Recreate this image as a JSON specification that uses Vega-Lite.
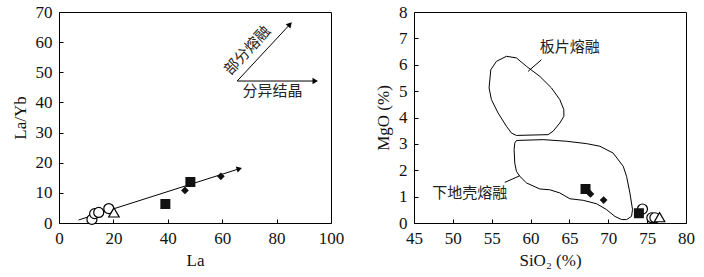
{
  "$schema": "https://vega.github.io/schema/vega-lite/v6.json",
  "padding": {"left": 10, "top": 2, "right": 5, "bottom": 5},
  "bounds": "flush",
  "spacing": 83,
  "config": {
    "view": {"stroke": "black", "strokeWidth": 1},
    "font": "Liberation Serif",
    "style": {"guide-label": {"font": "Liberation Serif", "fontSize": 17, "fill": "#111"}, "guide-title": {"font": "Liberation Serif", "fontSize": 17, "fontWeight": "normal", "fill": "#111"}},
    "axis": {
      "grid": false,
      "domain": false,
      "tickColor": "black",
      "tickSize": 4,
      "offset": -4,
      "labelPadding": 7,
      "labelOverlap": false,
      "labelFlush": false,
      "labelFont": "Liberation Serif",
      "labelFontSize": 17,
      "labelColor": "#111",
      "titleFont": "Liberation Serif",
      "titleFontSize": 17,
      "titleFontWeight": "normal",
      "titleColor": "#111",
      "titlePadding": 6
    }
  },
  "datasets": {
    "left_pts": [
      {"La": 12.1, "LaYb": 1.2, "type": "circle"},
      {"La": 13.1, "LaYb": 3.1, "type": "circle"},
      {"La": 14.6, "LaYb": 3.5, "type": "circle"},
      {"La": 18.3, "LaYb": 4.8, "type": "circle"},
      {"La": 20.2, "LaYb": 3.5, "type": "triangle"},
      {"La": 39.1, "LaYb": 6.3, "type": "square"},
      {"La": 48.3, "LaYb": 13.6, "type": "square"},
      {"La": 46.3, "LaYb": 10.8, "type": "diamond"},
      {"La": 59.5, "LaYb": 15.5, "type": "diamond"}
    ],
    "left_lines": [
      {"x": 7.2, "y": 1.0, "x2": 66.3, "y2": 18.0},
      {"x": 65.5, "y": 47.1, "x2": 94.2, "y2": 47.1},
      {"x": 65.5, "y": 47.1, "x2": 84.9, "y2": 65.9}
    ],
    "right_pts": [
      {"SiO2": 74.4, "MgO": 0.53, "type": "circle"},
      {"SiO2": 75.6, "MgO": 0.2, "type": "circle"},
      {"SiO2": 76.0, "MgO": 0.2, "type": "circle"},
      {"SiO2": 76.6, "MgO": 0.22, "type": "triangle"},
      {"SiO2": 67.07, "MgO": 1.29, "type": "square"},
      {"SiO2": 73.94, "MgO": 0.37, "type": "square"},
      {"SiO2": 67.7, "MgO": 1.1, "type": "diamond"},
      {"SiO2": 69.4, "MgO": 0.87, "type": "diamond"}
    ],
    "polys": [
      {"id": "slab", "o": 1, "SiO2": 56.89, "MgO": 6.32},
      {"id": "slab", "o": 2, "SiO2": 58.18, "MgO": 6.26},
      {"id": "slab", "o": 3, "SiO2": 59.47, "MgO": 5.94},
      {"id": "slab", "o": 4, "SiO2": 61.19, "MgO": 5.56},
      {"id": "slab", "o": 5, "SiO2": 62.69, "MgO": 5.12},
      {"id": "slab", "o": 6, "SiO2": 63.76, "MgO": 4.68},
      {"id": "slab", "o": 7, "SiO2": 64.28, "MgO": 4.30},
      {"id": "slab", "o": 8, "SiO2": 64.28, "MgO": 4.04},
      {"id": "slab", "o": 9, "SiO2": 63.76, "MgO": 3.79},
      {"id": "slab", "o": 10, "SiO2": 62.90, "MgO": 3.48},
      {"id": "slab", "o": 11, "SiO2": 62.26, "MgO": 3.35},
      {"id": "slab", "o": 12, "SiO2": 58.18, "MgO": 3.32},
      {"id": "slab", "o": 13, "SiO2": 57.54, "MgO": 3.41},
      {"id": "slab", "o": 14, "SiO2": 56.89, "MgO": 3.67},
      {"id": "slab", "o": 15, "SiO2": 55.82, "MgO": 4.17},
      {"id": "slab", "o": 16, "SiO2": 54.96, "MgO": 4.68},
      {"id": "slab", "o": 17, "SiO2": 54.66, "MgO": 5.12},
      {"id": "slab", "o": 18, "SiO2": 54.88, "MgO": 5.81},
      {"id": "slab", "o": 19, "SiO2": 55.61, "MgO": 6.13},
      {"id": "slab", "o": 20, "SiO2": 56.89, "MgO": 6.32},
      {"id": "crust", "o": 1, "SiO2": 58.18, "MgO": 3.13},
      {"id": "crust", "o": 2, "SiO2": 61.62, "MgO": 3.16},
      {"id": "crust", "o": 3, "SiO2": 64.62, "MgO": 3.10},
      {"id": "crust", "o": 4, "SiO2": 67.20, "MgO": 3.01},
      {"id": "crust", "o": 5, "SiO2": 68.92, "MgO": 2.91},
      {"id": "crust", "o": 6, "SiO2": 70.63, "MgO": 2.65},
      {"id": "crust", "o": 7, "SiO2": 71.92, "MgO": 2.15},
      {"id": "crust", "o": 8, "SiO2": 72.35, "MgO": 1.77},
      {"id": "crust", "o": 9, "SiO2": 72.78, "MgO": 1.14},
      {"id": "crust", "o": 10, "SiO2": 73.12, "MgO": 0.51},
      {"id": "crust", "o": 11, "SiO2": 72.99, "MgO": 0.25},
      {"id": "crust", "o": 12, "SiO2": 72.35, "MgO": 0.13},
      {"id": "crust", "o": 13, "SiO2": 71.71, "MgO": 0.13},
      {"id": "crust", "o": 14, "SiO2": 70.85, "MgO": 0.25},
      {"id": "crust", "o": 15, "SiO2": 69.77, "MgO": 0.51},
      {"id": "crust", "o": 16, "SiO2": 68.49, "MgO": 0.73},
      {"id": "crust", "o": 17, "SiO2": 66.77, "MgO": 0.86},
      {"id": "crust", "o": 18, "SiO2": 65.05, "MgO": 0.92},
      {"id": "crust", "o": 19, "SiO2": 63.76, "MgO": 1.14},
      {"id": "crust", "o": 20, "SiO2": 62.47, "MgO": 1.26},
      {"id": "crust", "o": 21, "SiO2": 61.19, "MgO": 1.29},
      {"id": "crust", "o": 22, "SiO2": 59.47, "MgO": 1.52},
      {"id": "crust", "o": 23, "SiO2": 58.61, "MgO": 1.77},
      {"id": "crust", "o": 24, "SiO2": 58.18, "MgO": 1.96},
      {"id": "crust", "o": 25, "SiO2": 57.97, "MgO": 2.27},
      {"id": "crust", "o": 26, "SiO2": 57.88, "MgO": 2.78},
      {"id": "crust", "o": 27, "SiO2": 57.97, "MgO": 3.03},
      {"id": "crust", "o": 28, "SiO2": 58.18, "MgO": 3.13}
    ],
    "leaders": [
      {"x": 61.4, "y": 6.19, "x2": 59.68, "y2": 5.75},
      {"x": 56.68, "y": 1.54, "x2": 58.61, "y2": 1.79}
    ]
  },
  "hconcat": [
    {
      "width": 272,
      "height": 211,
      "layer": [
        {
          "data": {"name": "left_lines"},
          "mark": {"type": "rule", "color": "black", "strokeWidth": 1},
          "encoding": {
            "x": {"field": "x", "type": "quantitative", "scale": {"domain": [0, 100], "nice": false}, "axis": {"values": [0, 20, 40, 60, 80, 100], "tickCount": 6, "title": "La", "labelFont": "Liberation Serif", "labelFontSize": 17}},
            "y": {"field": "y", "type": "quantitative", "scale": {"domain": [0, 70], "nice": false}, "axis": {"values": [0, 10, 20, 30, 40, 50, 60, 70], "tickCount": 8, "title": "La/Yb", "labelFont": "Liberation Serif", "labelFontSize": 17}},
            "x2": {"field": "x2"},
            "y2": {"field": "y2"}
          }
        },
        {
          "data": {"values": [{"x": 66.3, "y": 18.0}]},
          "mark": {"type": "point", "shape": "triangle-up", "angle": 72, "size": 40, "filled": true, "color": "black", "opacity": 1},
          "encoding": {"x": {"field": "x", "type": "quantitative"}, "y": {"field": "y", "type": "quantitative"}}
        },
        {
          "data": {"values": [{"x": 94.2, "y": 47.1}]},
          "mark": {"type": "point", "shape": "triangle-up", "angle": 90, "size": 40, "filled": true, "color": "black", "opacity": 1},
          "encoding": {"x": {"field": "x", "type": "quantitative"}, "y": {"field": "y", "type": "quantitative"}}
        },
        {
          "data": {"values": [{"x": 84.9, "y": 65.9}]},
          "mark": {"type": "point", "shape": "triangle-up", "angle": 43, "size": 40, "filled": true, "color": "black", "opacity": 1},
          "encoding": {"x": {"field": "x", "type": "quantitative"}, "y": {"field": "y", "type": "quantitative"}}
        },
        {
          "data": {"values": [{"x": 78.5, "y": 43.8, "label": "分异结晶"}]},
          "mark": {"type": "text", "font": "Noto Sans CJK SC", "fontSize": 15, "color": "#222"},
          "encoding": {"x": {"field": "x", "type": "quantitative"}, "y": {"field": "y", "type": "quantitative"}, "text": {"field": "label"}}
        },
        {
          "data": {"values": [{"x": 69.2, "y": 57.3, "label": "部分熔融"}]},
          "mark": {"type": "text", "font": "Noto Sans CJK SC", "fontSize": 15, "color": "#222", "angle": -47},
          "encoding": {"x": {"field": "x", "type": "quantitative"}, "y": {"field": "y", "type": "quantitative"}, "text": {"field": "label"}}
        },
        {
          "data": {"name": "left_pts"},
          "transform": [{"filter": "datum.type == 'circle'"}],
          "mark": {"type": "point", "shape": "circle", "size": 100, "filled": true, "fill": "white", "stroke": "black", "strokeWidth": 1.2, "opacity": 1},
          "encoding": {"x": {"field": "La", "type": "quantitative"}, "y": {"field": "LaYb", "type": "quantitative"}}
        },
        {
          "data": {"name": "left_pts"},
          "transform": [{"filter": "datum.type == 'triangle'"}],
          "mark": {"type": "point", "shape": "triangle-up", "size": 110, "filled": true, "fill": "white", "stroke": "black", "strokeWidth": 1.2, "opacity": 1},
          "encoding": {"x": {"field": "La", "type": "quantitative"}, "y": {"field": "LaYb", "type": "quantitative"}}
        },
        {
          "data": {"name": "left_pts"},
          "transform": [{"filter": "datum.type == 'square'"}],
          "mark": {"type": "point", "shape": "square", "size": 100, "filled": true, "color": "#111", "opacity": 1},
          "encoding": {"x": {"field": "La", "type": "quantitative"}, "y": {"field": "LaYb", "type": "quantitative"}}
        },
        {
          "data": {"name": "left_pts"},
          "transform": [{"filter": "datum.type == 'diamond'"}],
          "mark": {"type": "point", "shape": "diamond", "size": 60, "filled": true, "color": "#111", "opacity": 1},
          "encoding": {"x": {"field": "La", "type": "quantitative"}, "y": {"field": "LaYb", "type": "quantitative"}}
        }
      ]
    },
    {
      "width": 272,
      "height": 211,
      "layer": [
        {
          "data": {"name": "polys"},
          "mark": {"type": "line", "color": "black", "strokeWidth": 1},
          "encoding": {
            "x": {"field": "SiO2", "type": "quantitative", "scale": {"domain": [45, 80], "nice": false, "zero": false}, "axis": {"values": [45, 50, 55, 60, 65, 70, 75, 80], "tickCount": 8, "title": "SiO₂ (%)", "labelFont": "Liberation Serif", "labelFontSize": 17}},
            "y": {"field": "MgO", "type": "quantitative", "scale": {"domain": [0, 8], "nice": false}, "axis": {"values": [0, 1, 2, 3, 4, 5, 6, 7, 8], "tickCount": 9, "title": "MgO (%)", "labelFont": "Liberation Serif", "labelFontSize": 17}},
            "detail": {"field": "id"},
            "order": {"field": "o", "type": "quantitative"}
          }
        },
        {
          "data": {"name": "leaders"},
          "mark": {"type": "rule", "color": "black", "strokeWidth": 1},
          "encoding": {
            "x": {"field": "x", "type": "quantitative"},
            "y": {"field": "y", "type": "quantitative"},
            "x2": {"field": "x2"},
            "y2": {"field": "y2"}
          }
        },
        {
          "data": {"values": [{"x": 65.05, "y": 6.67, "label": "板片熔融"}, {"x": 52.17, "y": 1.14, "label": "下地壳熔融"}]},
          "mark": {"type": "text", "font": "Noto Sans CJK SC", "fontSize": 15, "color": "#222"},
          "encoding": {"x": {"field": "x", "type": "quantitative"}, "y": {"field": "y", "type": "quantitative"}, "text": {"field": "label"}}
        },
        {
          "data": {"name": "right_pts"},
          "transform": [{"filter": "datum.type == 'circle'"}],
          "mark": {"type": "point", "shape": "circle", "size": 100, "filled": true, "fill": "white", "stroke": "black", "strokeWidth": 1.2, "opacity": 1},
          "encoding": {"x": {"field": "SiO2", "type": "quantitative"}, "y": {"field": "MgO", "type": "quantitative"}}
        },
        {
          "data": {"name": "right_pts"},
          "transform": [{"filter": "datum.type == 'triangle'"}],
          "mark": {"type": "point", "shape": "triangle-up", "size": 110, "filled": true, "fill": "white", "stroke": "black", "strokeWidth": 1.2, "opacity": 1},
          "encoding": {"x": {"field": "SiO2", "type": "quantitative"}, "y": {"field": "MgO", "type": "quantitative"}}
        },
        {
          "data": {"name": "right_pts"},
          "transform": [{"filter": "datum.type == 'square'"}],
          "mark": {"type": "point", "shape": "square", "size": 100, "filled": true, "color": "#111", "opacity": 1},
          "encoding": {"x": {"field": "SiO2", "type": "quantitative"}, "y": {"field": "MgO", "type": "quantitative"}}
        },
        {
          "data": {"name": "right_pts"},
          "transform": [{"filter": "datum.type == 'diamond'"}],
          "mark": {"type": "point", "shape": "diamond", "size": 60, "filled": true, "color": "#111", "opacity": 1},
          "encoding": {"x": {"field": "SiO2", "type": "quantitative"}, "y": {"field": "MgO", "type": "quantitative"}}
        }
      ]
    }
  ]
}
